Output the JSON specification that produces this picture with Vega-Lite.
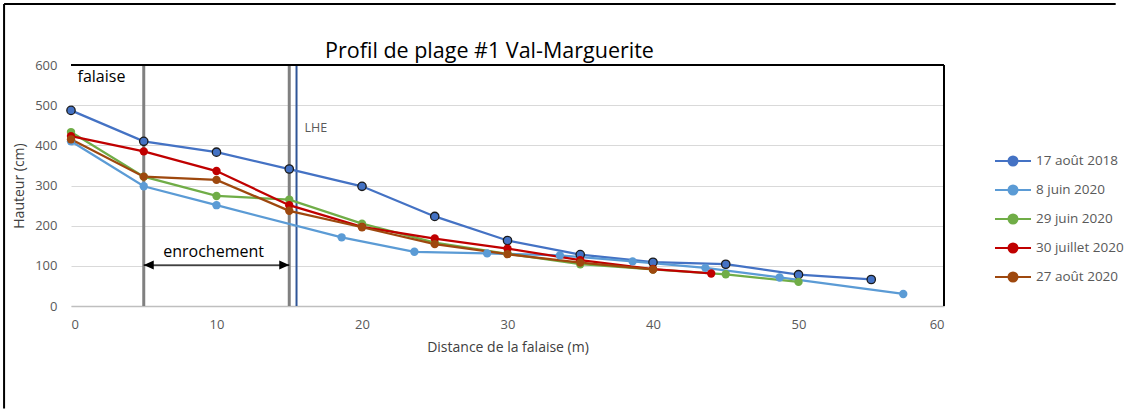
{
  "$schema": "https://vega.github.io/schema/vega-lite/v6.json",
  "width": 873,
  "height": 241,
  "autosize": {"type": "none"},
  "padding": {"left": 71, "top": 65, "right": 194, "bottom": 109},
  "background": "white",
  "title": {
    "text": "Profil de plage #1 Val-Marguerite",
    "font": "Open Sans",
    "fontSize": 21.5,
    "fontWeight": "normal",
    "color": "#000000",
    "anchor": "middle",
    "dx": -18,
    "offset": 5,
    "dy": 65
  },
  "config": {
    "view": {"stroke": null},
    "font": "Open Sans",
    "axis": {
      "labelFont": "Open Sans",
      "titleFont": "Open Sans",
      "labelColor": "#595959",
      "titleColor": "#404040",
      "labelFontSize": 13,
      "titleFontSize": 14,
      "titleFontWeight": "normal",
      "ticks": false
    }
  },
  "datasets": {
    "profiles": [
      {"date": "17 août 2018", "distance": 0, "hauteur": 487},
      {"date": "17 août 2018", "distance": 5, "hauteur": 410},
      {"date": "17 août 2018", "distance": 10, "hauteur": 383},
      {"date": "17 août 2018", "distance": 15, "hauteur": 341},
      {"date": "17 août 2018", "distance": 20, "hauteur": 298},
      {"date": "17 août 2018", "distance": 25, "hauteur": 223},
      {"date": "17 août 2018", "distance": 30, "hauteur": 163},
      {"date": "17 août 2018", "distance": 35, "hauteur": 128},
      {"date": "17 août 2018", "distance": 40, "hauteur": 109},
      {"date": "17 août 2018", "distance": 45, "hauteur": 104},
      {"date": "17 août 2018", "distance": 50, "hauteur": 78},
      {"date": "17 août 2018", "distance": 55, "hauteur": 66},
      {"date": "8 juin 2020", "distance": 0, "hauteur": 410},
      {"date": "8 juin 2020", "distance": 5, "hauteur": 298},
      {"date": "8 juin 2020", "distance": 10, "hauteur": 251},
      {"date": "8 juin 2020", "distance": 18.6, "hauteur": 171},
      {"date": "8 juin 2020", "distance": 23.6, "hauteur": 135},
      {"date": "8 juin 2020", "distance": 28.6, "hauteur": 131},
      {"date": "8 juin 2020", "distance": 33.6, "hauteur": 126},
      {"date": "8 juin 2020", "distance": 38.6, "hauteur": 111},
      {"date": "8 juin 2020", "distance": 43.6, "hauteur": 95},
      {"date": "8 juin 2020", "distance": 48.7, "hauteur": 71},
      {"date": "8 juin 2020", "distance": 57.2, "hauteur": 30},
      {"date": "29 juin 2020", "distance": 0, "hauteur": 433},
      {"date": "29 juin 2020", "distance": 5, "hauteur": 322},
      {"date": "29 juin 2020", "distance": 10, "hauteur": 274},
      {"date": "29 juin 2020", "distance": 15, "hauteur": 265},
      {"date": "29 juin 2020", "distance": 20, "hauteur": 205},
      {"date": "29 juin 2020", "distance": 25, "hauteur": 158},
      {"date": "29 juin 2020", "distance": 30, "hauteur": 130},
      {"date": "29 juin 2020", "distance": 35, "hauteur": 104},
      {"date": "29 juin 2020", "distance": 40, "hauteur": 91},
      {"date": "29 juin 2020", "distance": 45, "hauteur": 79},
      {"date": "29 juin 2020", "distance": 50, "hauteur": 60},
      {"date": "30 juillet 2020", "distance": 0, "hauteur": 423},
      {"date": "30 juillet 2020", "distance": 5, "hauteur": 385},
      {"date": "30 juillet 2020", "distance": 10, "hauteur": 336},
      {"date": "30 juillet 2020", "distance": 15, "hauteur": 251},
      {"date": "30 juillet 2020", "distance": 20, "hauteur": 197},
      {"date": "30 juillet 2020", "distance": 25, "hauteur": 168},
      {"date": "30 juillet 2020", "distance": 30, "hauteur": 143},
      {"date": "30 juillet 2020", "distance": 35, "hauteur": 114},
      {"date": "30 juillet 2020", "distance": 40, "hauteur": 92},
      {"date": "30 juillet 2020", "distance": 44, "hauteur": 81},
      {"date": "27 août 2020", "distance": 0, "hauteur": 415},
      {"date": "27 août 2020", "distance": 5, "hauteur": 322},
      {"date": "27 août 2020", "distance": 10, "hauteur": 314},
      {"date": "27 août 2020", "distance": 15, "hauteur": 237},
      {"date": "27 août 2020", "distance": 20, "hauteur": 196},
      {"date": "27 août 2020", "distance": 25, "hauteur": 154},
      {"date": "27 août 2020", "distance": 30, "hauteur": 129},
      {"date": "27 août 2020", "distance": 35, "hauteur": 108},
      {"date": "27 août 2020", "distance": 40, "hauteur": 91}
    ],
    "limites": [
      {"distance": 5, "nom": "limite falaise"},
      {"distance": 15, "nom": "limite enrochement"}
    ],
    "lhe": [
      {"distance": 15.5, "nom": "LHE"}
    ],
    "falaise": [
      {"distance": 0.45, "hauteur": 570, "label": "falaise"}
    ],
    "enrochement": [
      {"distance": 9.8, "hauteur": 135, "label": "enrochement"}
    ],
    "fleche": [
      {"distance": 5, "distance2": 15, "hauteur": 102}
    ],
    "pointes": [
      {"distance": 5, "hauteur": 102, "sens": "gauche"},
      {"distance": 15, "hauteur": 102, "sens": "droite"}
    ],
    "cadre": [{}]
  },
  "layer": [
    {
      "data": {"name": "limites"},
      "mark": {"type": "rule", "color": "#808080", "strokeWidth": 3},
      "encoding": {"x": {"field": "distance", "type": "quantitative"}}
    },
    {
      "data": {"name": "lhe"},
      "mark": {"type": "rule", "color": "#2f5597", "strokeWidth": 2},
      "encoding": {"x": {"field": "distance", "type": "quantitative"}}
    },
    {
      "data": {"name": "lhe"},
      "mark": {"type": "text", "align": "left", "baseline": "middle", "dx": 8, "fontSize": 12.5, "color": "#595959", "font": "Open Sans"},
      "encoding": {
        "x": {"field": "distance", "type": "quantitative"},
        "y": {"datum": 443},
        "text": {"field": "nom"}
      }
    },
    {
      "data": {"name": "fleche"},
      "mark": {"type": "rule", "color": "#000000", "strokeWidth": 1.3},
      "encoding": {
        "x": {"field": "distance", "type": "quantitative"},
        "x2": {"field": "distance2"},
        "y": {"field": "hauteur", "type": "quantitative"}
      }
    },
    {
      "data": {"name": "pointes"},
      "mark": {"type": "point", "filled": true, "color": "#000000", "size": 100, "opacity": 1},
      "encoding": {
        "x": {"field": "distance", "type": "quantitative"},
        "y": {"field": "hauteur", "type": "quantitative"},
        "shape": {
          "field": "sens",
          "type": "nominal",
          "scale": {"domain": ["gauche", "droite"], "range": ["M0,0L2,-0.9L2,0.9Z", "M0,0L-2,-0.9L-2,0.9Z"]},
          "legend": null
        }
      }
    },
    {
      "data": {"name": "falaise"},
      "mark": {"type": "text", "align": "left", "baseline": "middle", "fontSize": 16, "color": "#000000", "font": "Open Sans"},
      "encoding": {
        "x": {"field": "distance", "type": "quantitative"},
        "y": {"field": "hauteur", "type": "quantitative"},
        "text": {"field": "label"}
      }
    },
    {
      "data": {"name": "enrochement"},
      "mark": {"type": "text", "align": "center", "baseline": "middle", "fontSize": 16, "color": "#000000", "font": "Open Sans"},
      "encoding": {
        "x": {"field": "distance", "type": "quantitative"},
        "y": {"field": "hauteur", "type": "quantitative"},
        "text": {"field": "label"}
      }
    },
    {
      "data": {"name": "cadre"},
      "mark": {"type": "rule", "color": "#000000", "strokeWidth": 2},
      "encoding": {"y": {"datum": 600}}
    },
    {
      "data": {"name": "cadre"},
      "mark": {"type": "rule", "color": "#000000", "strokeWidth": 2},
      "encoding": {"x": {"datum": 60}}
    },
    {
      "data": {"name": "cadre"},
      "mark": {"type": "rule", "color": "#000000", "strokeWidth": 2, "clip": false},
      "encoding": {"x": {"datum": -4.6}, "y": {"datum": -255}, "y2": {"datum": 752}}
    },
    {
      "data": {"name": "cadre"},
      "mark": {"type": "rule", "color": "#000000", "strokeWidth": 2, "clip": false},
      "encoding": {"y": {"datum": 752}, "x": {"datum": -4.6}, "x2": {"datum": 71.8}}
    },
    {
      "data": {"name": "profiles"},
      "mark": {"type": "line", "strokeWidth": 2.25},
      "encoding": {
        "x": {
          "field": "distance",
          "type": "quantitative",
          "scale": {"domain": [0, 60], "nice": false, "zero": false},
          "axis": {
            "title": "Distance de la falaise (m)",
            "values": [0, 10, 20, 30, 40, 50, 60],
            "grid": false,
            "domainColor": "#bfbfbf",
            "domainWidth": 1.5,
            "labelPadding": 12,
            "titlePadding": 9
          }
        },
        "y": {
          "field": "hauteur",
          "type": "quantitative",
          "scale": {"domain": [0, 600], "nice": false},
          "axis": {
            "title": "Hauteur (cm)",
            "values": [0, 100, 200, 300, 400, 500, 600],
            "grid": true,
            "gridColor": "#d9d9d9",
            "domain": false,
            "labelPadding": 14,
            "titlePadding": 8
          }
        },
        "color": {
          "field": "date",
          "type": "nominal",
          "sort": ["17 août 2018", "8 juin 2020", "29 juin 2020", "30 juillet 2020", "27 août 2020"],
          "scale": {
            "domain": ["17 août 2018", "8 juin 2020", "29 juin 2020", "30 juillet 2020", "27 août 2020"],
            "range": ["#4472c4", "#5b9bd5", "#70ad47", "#c00000", "#9e480e"]
          },
          "legend": {
            "title": null,
            "orient": "none",
            "legendX": 935,
            "legendY": 89,
            "symbolType": "M-3,0H3M-0.75,0A0.75,0.75,0,1,0,0.75,0A0.75,0.75,0,1,0,-0.75,0Z",
            "symbolSize": 144,
            "symbolStrokeWidth": 2,
            "labelFont": "Open Sans",
            "labelFontSize": 13.5,
            "labelColor": "#595959",
            "labelOffset": 16,
            "rowPadding": 11,
            "encoding": {
              "symbols": {"update": {"fill": {"scale": "color", "field": "value"}}}
            }
          }
        },
        "order": {"field": "distance", "type": "quantitative"}
      }
    },
    {
      "data": {"name": "profiles"},
      "mark": {"type": "point", "filled": true, "size": 70, "opacity": 1, "stroke": "#1a1a1a"},
      "encoding": {
        "x": {"field": "distance", "type": "quantitative"},
        "y": {"field": "hauteur", "type": "quantitative"},
        "color": {"field": "date", "type": "nominal"},
        "strokeWidth": {
          "condition": {"test": "datum.date === '17 août 2018'", "value": 1.3},
          "value": 0
        }
      }
    }
  ]
}
